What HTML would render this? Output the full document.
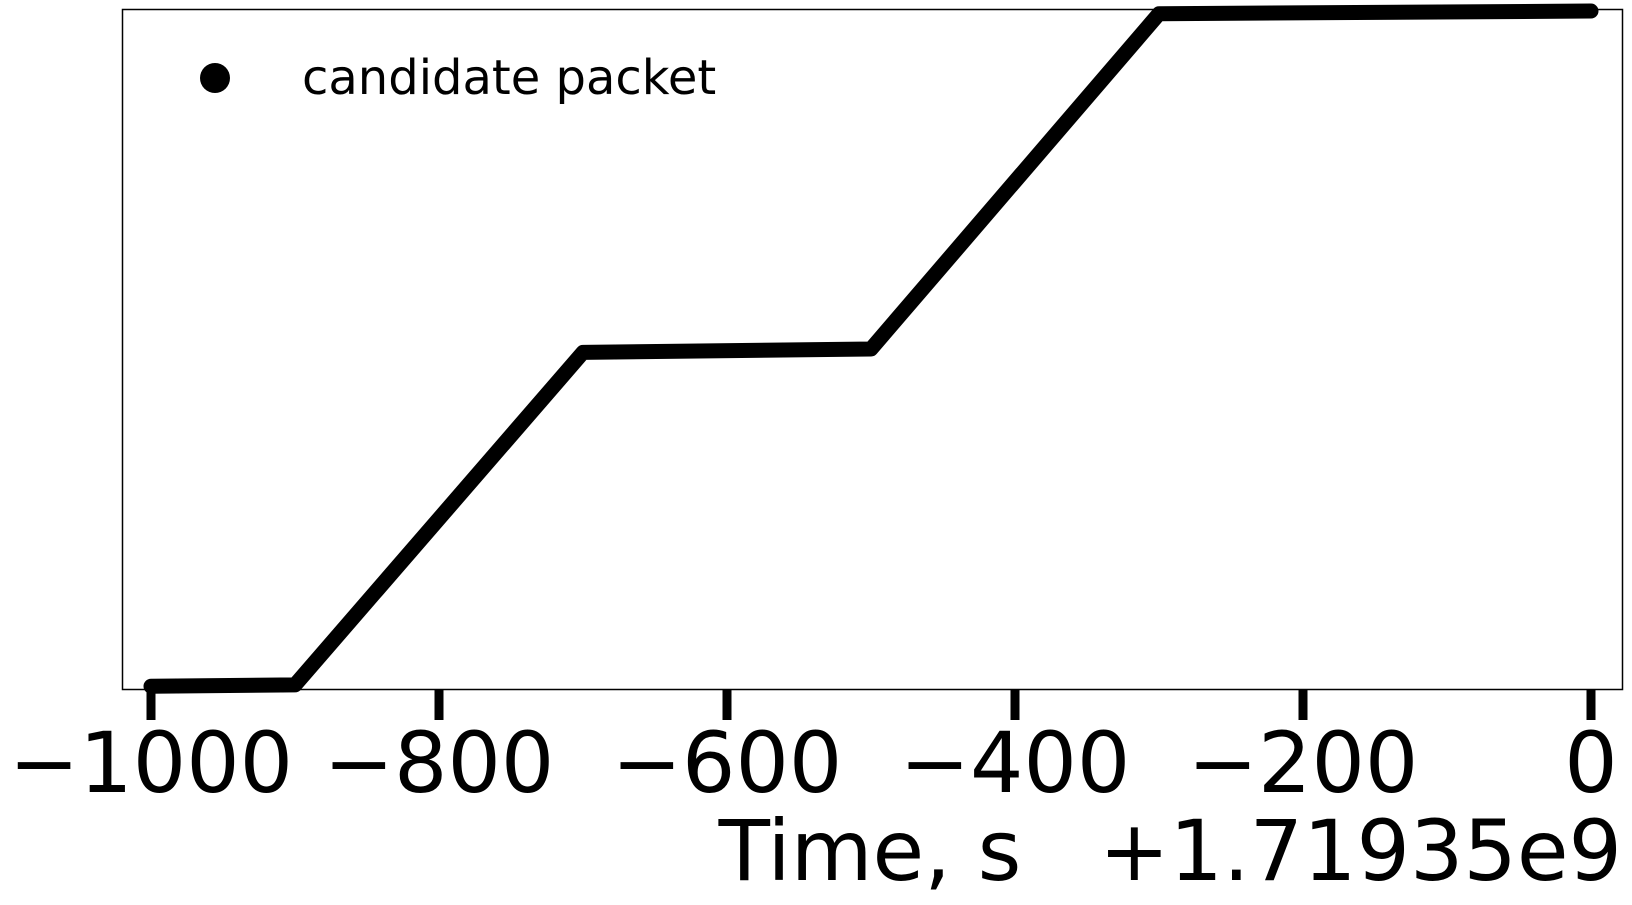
<!DOCTYPE html>
<html><head><meta charset="utf-8"><style>
body{margin:0;background:#fff}
svg{display:block}
text{font-family:"DejaVu Sans","Liberation Sans",sans-serif;fill:#000}
</style></head><body>
<svg id="chart" width="1632" height="905" viewBox="0 0 1632 905" xmlns="http://www.w3.org/2000/svg">
<rect x="122.5" y="9.5" width="1500" height="680" fill="#fff" stroke="#000" stroke-width="1.5"/>
<g id="ticks"></g>
<polyline id="series" fill="none" stroke="#000" stroke-width="15" stroke-linejoin="round" stroke-linecap="round"/>
<circle cx="215" cy="78" r="15" fill="#000"/>
<text x="302" y="94" font-size="48">candidate packet</text>
<text x="870" y="880" font-size="84" text-anchor="middle">Time, s</text>
<text x="1622" y="880" font-size="84" text-anchor="end">+1.71935e9</text>
</svg>
<script>
const times=[-1000,-900,-700,-500,-300,0];
const counts=[4,6,495,500,993,997];
const tickValues=[-1000,-800,-600,-400,-200,0];
const tickLabels=["\u22121000","\u2212800","\u2212600","\u2212400","\u2212200","0"];
const X=t=>151+(t+1000)*1.44;
const Y=v=>689-v*0.68;
const ns="http://www.w3.org/2000/svg";
document.getElementById('series').setAttribute('points',times.map((t,i)=>X(t)+','+Y(counts[i])).join(' '));
const g=document.getElementById('ticks');
tickValues.forEach((t,i)=>{
  const l=document.createElementNS(ns,'line');
  
  
  l.setAttribute('x1',X(t));l.setAttribute('x2',X(t));
  l.setAttribute('y1',689);l.setAttribute('y2',720);
  l.setAttribute('stroke','#000');l.setAttribute('stroke-width','9');
  g.appendChild(l);
  const tx=document.createElementNS(ns,'text');
  
  
  tx.setAttribute('x',X(t));tx.setAttribute('y',792);
  tx.setAttribute('font-size','84');tx.setAttribute('text-anchor','middle');
  tx.textContent=tickLabels[i];
  g.appendChild(tx);
});
</script>
</body></html>
